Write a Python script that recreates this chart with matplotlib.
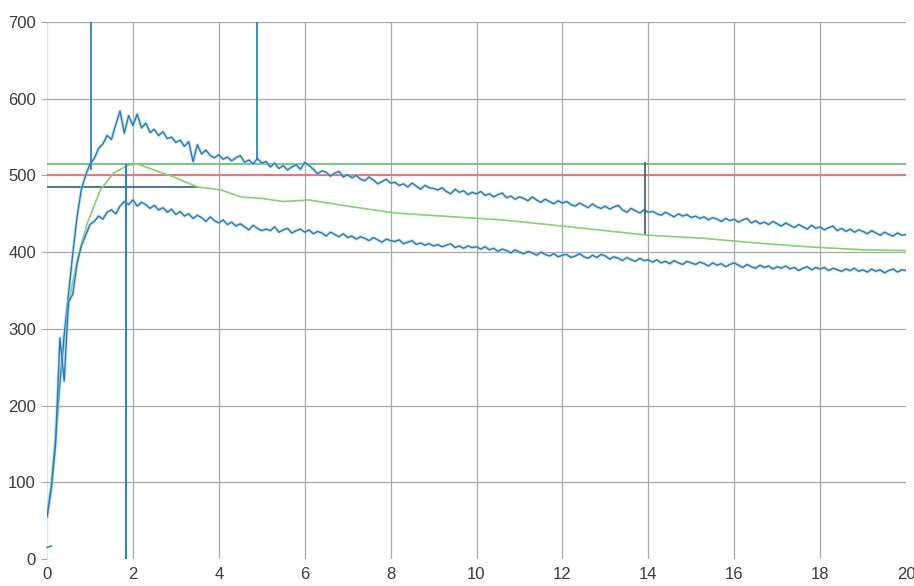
import numpy as np
import matplotlib
matplotlib.use("Agg")
import matplotlib.pyplot as plt

plt.rcParams['font.family'] = ['Liberation Sans', 'DejaVu Sans']

# time axis of the two measured traces (step 0.1)
t = np.round(np.arange(0, 20.001, 0.1), 1)

upper = [
    55, 95, 158, 230, 292, 345, 398, 446, 482, 500, 515,
    522, 535, 541, 552, 547, 566, 584, 555, 578, 565,
    580, 562, 568, 556, 560, 552, 557, 548, 550, 543,
    546, 538, 544, 518, 540, 528, 533, 526, 523, 527,
    521, 524, 519, 523, 526, 517, 520, 515, 522, 516,
    518, 511, 516, 509, 513, 507, 511, 514, 508, 517,
    513, 508, 502, 506, 504, 499, 503, 505, 498, 501,
    497, 500, 495, 493, 498, 494, 489, 492, 495, 490,
    491, 487, 489, 485, 490, 486, 482, 487, 484, 483,
    481, 484, 479, 476, 482, 478, 480, 475, 478, 476,
    479, 474, 476, 472, 475, 477, 471, 473, 469, 472,
    470, 467, 472, 468, 465, 469, 466, 463, 467, 464,
    466, 462, 460, 464, 461, 458, 463, 459, 457, 460,
    456, 459, 461, 455, 452, 457, 454, 451, 455, 452,
    453, 450, 448, 452, 449, 446, 450, 447, 449, 445,
    447, 444, 446, 442, 445, 443, 440, 444, 441, 443,
    439, 442, 444, 438, 441, 437, 439, 436, 440, 437,
    434, 438, 435, 432, 436, 433, 430, 435, 431, 433,
    429, 432, 434, 428, 431, 427, 430, 426, 429, 427,
    424, 428, 425, 422, 426, 423, 421, 425, 422, 423,
]

lower = [
    55, 92, 150, 288, 232, 335, 345, 385, 408, 422, 436,
    440, 447, 443, 452, 455, 450, 460, 466, 462, 468,
    460, 465, 462, 457, 461, 455, 458, 452, 456, 449,
    453, 447, 450, 444, 448, 445, 440, 446, 441, 438,
    442, 436, 439, 434, 437, 433, 429, 435, 431, 428,
    430, 428, 433, 426, 429, 431, 425, 428, 430, 426,
    429, 424, 427, 425, 421, 426, 423, 420, 424, 419,
    421, 417, 420, 418, 415, 419, 416, 413, 417, 415,
    414, 416, 411, 413, 415, 410, 412, 409, 411, 408,
    410, 407, 409, 411, 406, 408, 405, 408, 406, 407,
    404, 407, 403, 405, 401, 404, 402, 399, 403, 400,
    398, 401, 399, 396, 400, 397, 395, 398, 394, 396,
    397, 393, 395, 398, 394, 392, 396, 393, 397, 395,
    391, 394, 392, 389, 393, 390, 388, 392, 389, 390,
    387, 390, 386, 388, 385, 389, 386, 384, 388, 386,
    384, 387, 385, 382, 386, 383, 385, 381, 384, 386,
    383, 380, 384, 381, 379, 383, 380, 382, 378, 381,
    379, 382, 378, 380, 376, 379, 381, 377, 380, 378,
    380, 376, 379, 377, 375, 378, 376, 379, 375, 377,
    374, 378, 375, 377, 373, 376, 378, 374, 377, 376,
]

# smoothed (green) trace
green_x = [0, 0.1, 0.2, 0.3, 0.4, 0.5, 0.6, 0.75, 0.94, 1.24, 1.55, 1.87,
           2.1, 2.5, 2.95, 3.5, 4.06, 4.5, 5, 5.5, 6.1, 7, 8.1, 9.2, 10.6,
           12, 13, 14, 15.3, 16.5, 17.7, 19, 20]
green_y = [55, 95, 155, 228, 285, 330, 362, 400, 438, 481, 503, 513,
           515, 507, 498, 485, 481, 472, 470, 466, 468, 460, 451, 447, 442,
           434, 428, 422, 418, 412, 407, 403, 402]

# spikes in the upper trace (go off the top)
spike_x = [1.03, 4.9]
spike_from = [507, 522]

# reference levels
level_green = 515
level_red = 500
level_dark = 485
level_dark_end = 3.5

# markers
mark1_x, mark1_lo, mark1_hi = 1.85, 0, 515
mark2_x, mark2_lo, mark2_hi = 13.93, 423, 518
stub_x = [0.0, 0.1]
stub_y = [15, 17]

fig = plt.figure(figsize=(9.14, 5.86), dpi=100)
ax = fig.add_axes([47 / 914, 27 / 586, 859 / 914, 537 / 586])

ax.set_xlim(0, 20)
ax.set_ylim(0, 700)
ax.set_xticks(range(0, 21, 2))
ax.set_yticks(range(0, 701, 100))
ax.grid(True, color='#a8a8a8', linewidth=0.9)
ax.set_axisbelow(True)
xg = ax.get_xgridlines()
xg[0].set_color('#e4e4e4')
xg[-1].set_visible(False)
ax.get_ygridlines()[0].set_color('#e4e4e4')
for s in ax.spines.values():
    s.set_visible(False)
ax.tick_params(axis='y', length=4, color='#a8a8a8', labelsize=12,
               labelcolor='#3a3a3a', pad=4)
ax.tick_params(axis='x', length=0, labelsize=12, labelcolor='#3a3a3a', pad=6)

# reference lines
ax.axhline(level_green, color='#6cc17a', linewidth=1.3)
ax.axhline(level_red, color='#e8707e', linewidth=1.3)
ax.plot([0, level_dark_end], [level_dark, level_dark], color='#2f5f80', linewidth=1.2)

# green trace
ax.plot(green_x, green_y, color='#86cf72', linewidth=1.2)

# blue traces with a light halo like the scan
for ys in (upper, lower):
    ax.plot(t, ys, color='#9fd2ef', linewidth=2.4, alpha=0.55, solid_joinstyle='round')
    ax.plot(t, ys, color='#2a78b2', linewidth=1.0)

ax.vlines(spike_x, spike_from, 760, color='#2a86c0', linewidth=1.3, clip_on=True)
ax.vlines(mark1_x, mark1_lo, mark1_hi, color='#2a86c0', linewidth=1.5)
ax.vlines(mark2_x, mark2_lo, mark2_hi, color='#3c5872', linewidth=1.2)
ax.plot(stub_x, stub_y, color='#3f8fb8', linewidth=1.2, clip_on=False)

fig.savefig('out.png', dpi=100)
